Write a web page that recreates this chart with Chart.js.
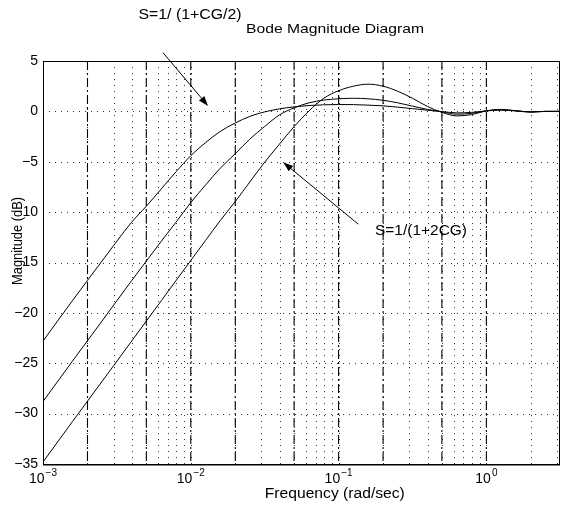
<!DOCTYPE html>
<html><head><meta charset="utf-8">
<script src="https://cdn.jsdelivr.net/npm/chart.js@4.4.1/dist/chart.umd.min.js"></script>
<style>html,body{margin:0;padding:0;background:#fff;overflow:hidden}canvas{display:block}</style>
</head><body>
<canvas id="c" width="572" height="508"></canvas>
<script>
// ---------- data ----------
const frequencies = [0.001, 0.00158, 0.00251, 0.00398, 0.00501, 0.00631, 0.00794, 0.01, 0.0126, 0.0158, 0.02, 0.0251, 0.0316, 0.0398, 0.0501, 0.0631, 0.0794, 0.1, 0.126, 0.158, 0.2, 0.251, 0.316, 0.398, 0.501, 0.631, 0.794, 1, 1.26, 1.58, 2, 2.51, 3.1];
const magHalfCG = [-22.8, -18.8, -14.85, -11.0, -9.4, -7.7, -6.0, -4.4, -3.1, -2.0, -1.15, -0.5, -0.05, 0.25, 0.45, 0.58, 0.65, 0.68, 0.67, 0.62, 0.55, 0.42, 0.27, 0.12, -0.02, -0.15, -0.1, 0.05, 0.12, 0.05, -0.04, 0.0, 0.0];
const magCG = [-28.8, -24.8, -20.8, -16.8, -14.85, -12.9, -11.0, -9.05, -7.3, -5.65, -4.2, -2.75, -1.5, -0.35, 0.35, 0.85, 1.12, 1.25, 1.3, 1.25, 1.1, 0.85, 0.52, 0.2, -0.05, -0.28, -0.2, 0.05, 0.16, 0.05, -0.06, 0.0, 0.0];
const magTwoCG = [-34.8, -30.8, -26.8, -22.8, -20.8, -18.8, -16.8, -14.8, -12.8, -10.85, -8.95, -7.0, -5.05, -3.25, -1.5, 0.05, 1.3, 2.05, 2.5, 2.7, 2.5, 2.0, 1.3, 0.5, -0.1, -0.45, -0.32, 0.05, 0.2, 0.06, -0.08, 0.0, 0.0];
const yTicks = [-35, -30, -25, -20, -15, -10, -5, 0, 5];
const xDecades = [0.001, 0.01, 0.1, 1];
const xExponents = ['\u22123', '\u22122', '\u22121', '0'];
const markerFreqs = [0.002, 0.005, 0.01, 0.02, 0.05, 0.1, 0.2, 0.5, 1];
const xRange = [0.001, 3.1];
const yRange = [-35, 5];
// annotation arrows: [startFreq, startDb, tipFreq, tipDb]
const arrowHalf = [0.00649, 5.82, 0.01309, 0.54];
const arrowTwo = [0.136, -11.2, 0.0422, -5.05];

const FONT = '"Liberation Sans", Arial, Helvetica, sans-serif';

function pts(ys){ return frequencies.map((f,i)=>({x:f,y:ys[i]})); }

function drawText(ctx, str, x, y, size, width, align, rot){
  ctx.save();
  ctx.font = size + 'px ' + FONT;
  ctx.fillStyle = '#000';
  ctx.textBaseline = 'alphabetic';
  const w = ctx.measureText(str).width;
  const sx = width ? width / w : 1;
  ctx.translate(x, y);
  if (rot) ctx.rotate(rot);
  ctx.scale(sx, 1);
  let ox = 0;
  if (align === 'center') ox = -w/2; else if (align === 'right') ox = -w;
  ctx.fillText(str, ox, 0);
  ctx.restore();
}

function arrow(ctx, x0, y0, x1, y1){
  const a = Math.atan2(y1-y0, x1-x0);
  const L = 10, H = 3.5;
  const bx = x1 - L*Math.cos(a), by = y1 - L*Math.sin(a);
  ctx.save();
  ctx.strokeStyle = '#000'; ctx.fillStyle = '#000'; ctx.lineWidth = 1; ctx.setLineDash([]);
  ctx.beginPath(); ctx.moveTo(x0,y0); ctx.lineTo(bx,by); ctx.stroke();
  ctx.beginPath();
  ctx.moveTo(x1,y1);
  ctx.lineTo(bx + H*Math.sin(a), by - H*Math.cos(a));
  ctx.lineTo(bx - H*Math.sin(a), by + H*Math.cos(a));
  ctx.closePath(); ctx.fill();
  ctx.restore();
}

const bodePlugin = {
  id: 'bode',
  beforeDatasetsDraw(chart){
    const {ctx, chartArea: a, scales:{x, y}} = chart;
    ctx.save();
    ctx.beginPath(); ctx.rect(a.left, a.top, a.right-a.left, a.bottom-a.top); ctx.clip();
    // dotted grid
    ctx.strokeStyle = '#333'; ctx.lineWidth = 1; ctx.setLineDash([1,5]);
    for (let d = -3; d <= 0; d++){
      for (let m = 1; m <= 9; m++){
        const f = m*Math.pow(10,d);
        if (f <= xRange[0] || f >= xRange[1]) continue;
        const px = Math.round(x.getPixelForValue(f)) + 0.5;
        ctx.beginPath(); ctx.moveTo(px, a.top); ctx.lineTo(px, a.bottom); ctx.stroke();
      }
    }
    yTicks.forEach(v => {
      if (v <= yRange[0] || v >= yRange[1]) return;
      const py = Math.round(y.getPixelForValue(v)) + 0.5;
      ctx.beginPath(); ctx.moveTo(a.left, py); ctx.lineTo(a.right, py); ctx.stroke();
    });
    // dash-dot marker lines
    ctx.strokeStyle = '#000'; ctx.lineWidth = 1.1; ctx.setLineDash([9,3,2,3]);
    markerFreqs.forEach(f => {
      const px = x.getPixelForValue(f);
      ctx.beginPath(); ctx.moveTo(px, a.top); ctx.lineTo(px, a.bottom); ctx.stroke();
    });
    ctx.restore();
  },
  afterDraw(chart){
    const {ctx, chartArea: a, scales:{x, y}} = chart;
    // frame
    ctx.save();
    ctx.strokeStyle = '#000'; ctx.lineWidth = 1; ctx.setLineDash([]);
    ctx.strokeRect(Math.round(a.left)+0.5, Math.round(a.top)+0.5, Math.round(a.right-a.left), Math.round(a.bottom-a.top));
    ctx.beginPath(); ctx.moveTo(a.left, Math.round(a.bottom)+1); ctx.lineTo(a.right+1, Math.round(a.bottom)+1); ctx.stroke();
    ctx.restore();
    // x tick labels 10^n
    xDecades.forEach((f,i) => {
      const px = x.getPixelForValue(f);
      ctx.save();
      ctx.font = '14px ' + FONT;
      const wb = ctx.measureText('10').width;
      ctx.font = '10px ' + FONT;
      const we = ctx.measureText(xExponents[i]).width;
      const x0 = px - (wb + 1 + we)/2;
      ctx.restore();
      drawText(ctx, '10', x0, a.bottom + 19, 14, null, 'left');
      drawText(ctx, xExponents[i], x0 + wb + 1, a.bottom + 12, 10, null, 'left');
    });
    // arrows
    arrow(ctx, x.getPixelForValue(arrowHalf[0]), y.getPixelForValue(arrowHalf[1]), x.getPixelForValue(arrowHalf[2]), y.getPixelForValue(arrowHalf[3]));
    arrow(ctx, x.getPixelForValue(arrowTwo[0]), y.getPixelForValue(arrowTwo[1]), x.getPixelForValue(arrowTwo[2]), y.getPixelForValue(arrowTwo[3]));
    // texts
    drawText(ctx, 'S=1/ (1+CG/2)', 138.5, 18.5, 14, 103, 'left');
    drawText(ctx, 'Bode Magnitude Diagram', 246, 33, 13, 178, 'left');
    drawText(ctx, 'S=1/(1+2CG)', 375, 235, 14, 92, 'left');
    drawText(ctx, 'Frequency (rad/sec)', 334.8, 498, 14, 140, 'center');
    drawText(ctx, 'Magnitude (dB)', 22, 241, 15, 88, 'center', -Math.PI/2);
  }
};

new Chart(document.getElementById('c'), {
  type: 'line',
  data: {
    datasets: [
      {label: 'S=1/(1+CG/2)', data: pts(magHalfCG)},
      {label: 'S=1/(1+CG)', data: pts(magCG)},
      {label: 'S=1/(1+2CG)', data: pts(magTwoCG)}
    ].map(d => Object.assign(d, {borderColor:'#000', borderWidth:1, pointRadius:0, fill:false, cubicInterpolationMode:'monotone'}))
  },
  options: {
    responsive: false,
    devicePixelRatio: 1,
    animation: false,
    events: [],
    layout: {padding: {top: 61, right: 13, left: 0, bottom: 0}},
    plugins: {legend: {display: false}, tooltip: {enabled: false}, title: {display: false}},
    scales: {
      x: {
        type: 'logarithmic', min: xRange[0], max: xRange[1],
        ticks: {display: false}, grid: {display: false, drawTicks: false}, border: {display: false},
        afterFit(s){ s.height = 44; }
      },
      y: {
        type: 'linear', min: yRange[0], max: yRange[1],
        afterBuildTicks(s){ s.ticks = yTicks.map(v => ({value: v})); },
        ticks: {
          color: '#000', padding: 5, autoSkip: false,
          font: {family: FONT, size: 14},
          callback: v => String(v).replace('-', '\u2212')
        },
        grid: {display: false, drawTicks: false}, border: {display: false},
        afterFit(s){ s.width = 43; }
      }
    }
  },
  plugins: [bodePlugin]
});
</script>
</body></html>
